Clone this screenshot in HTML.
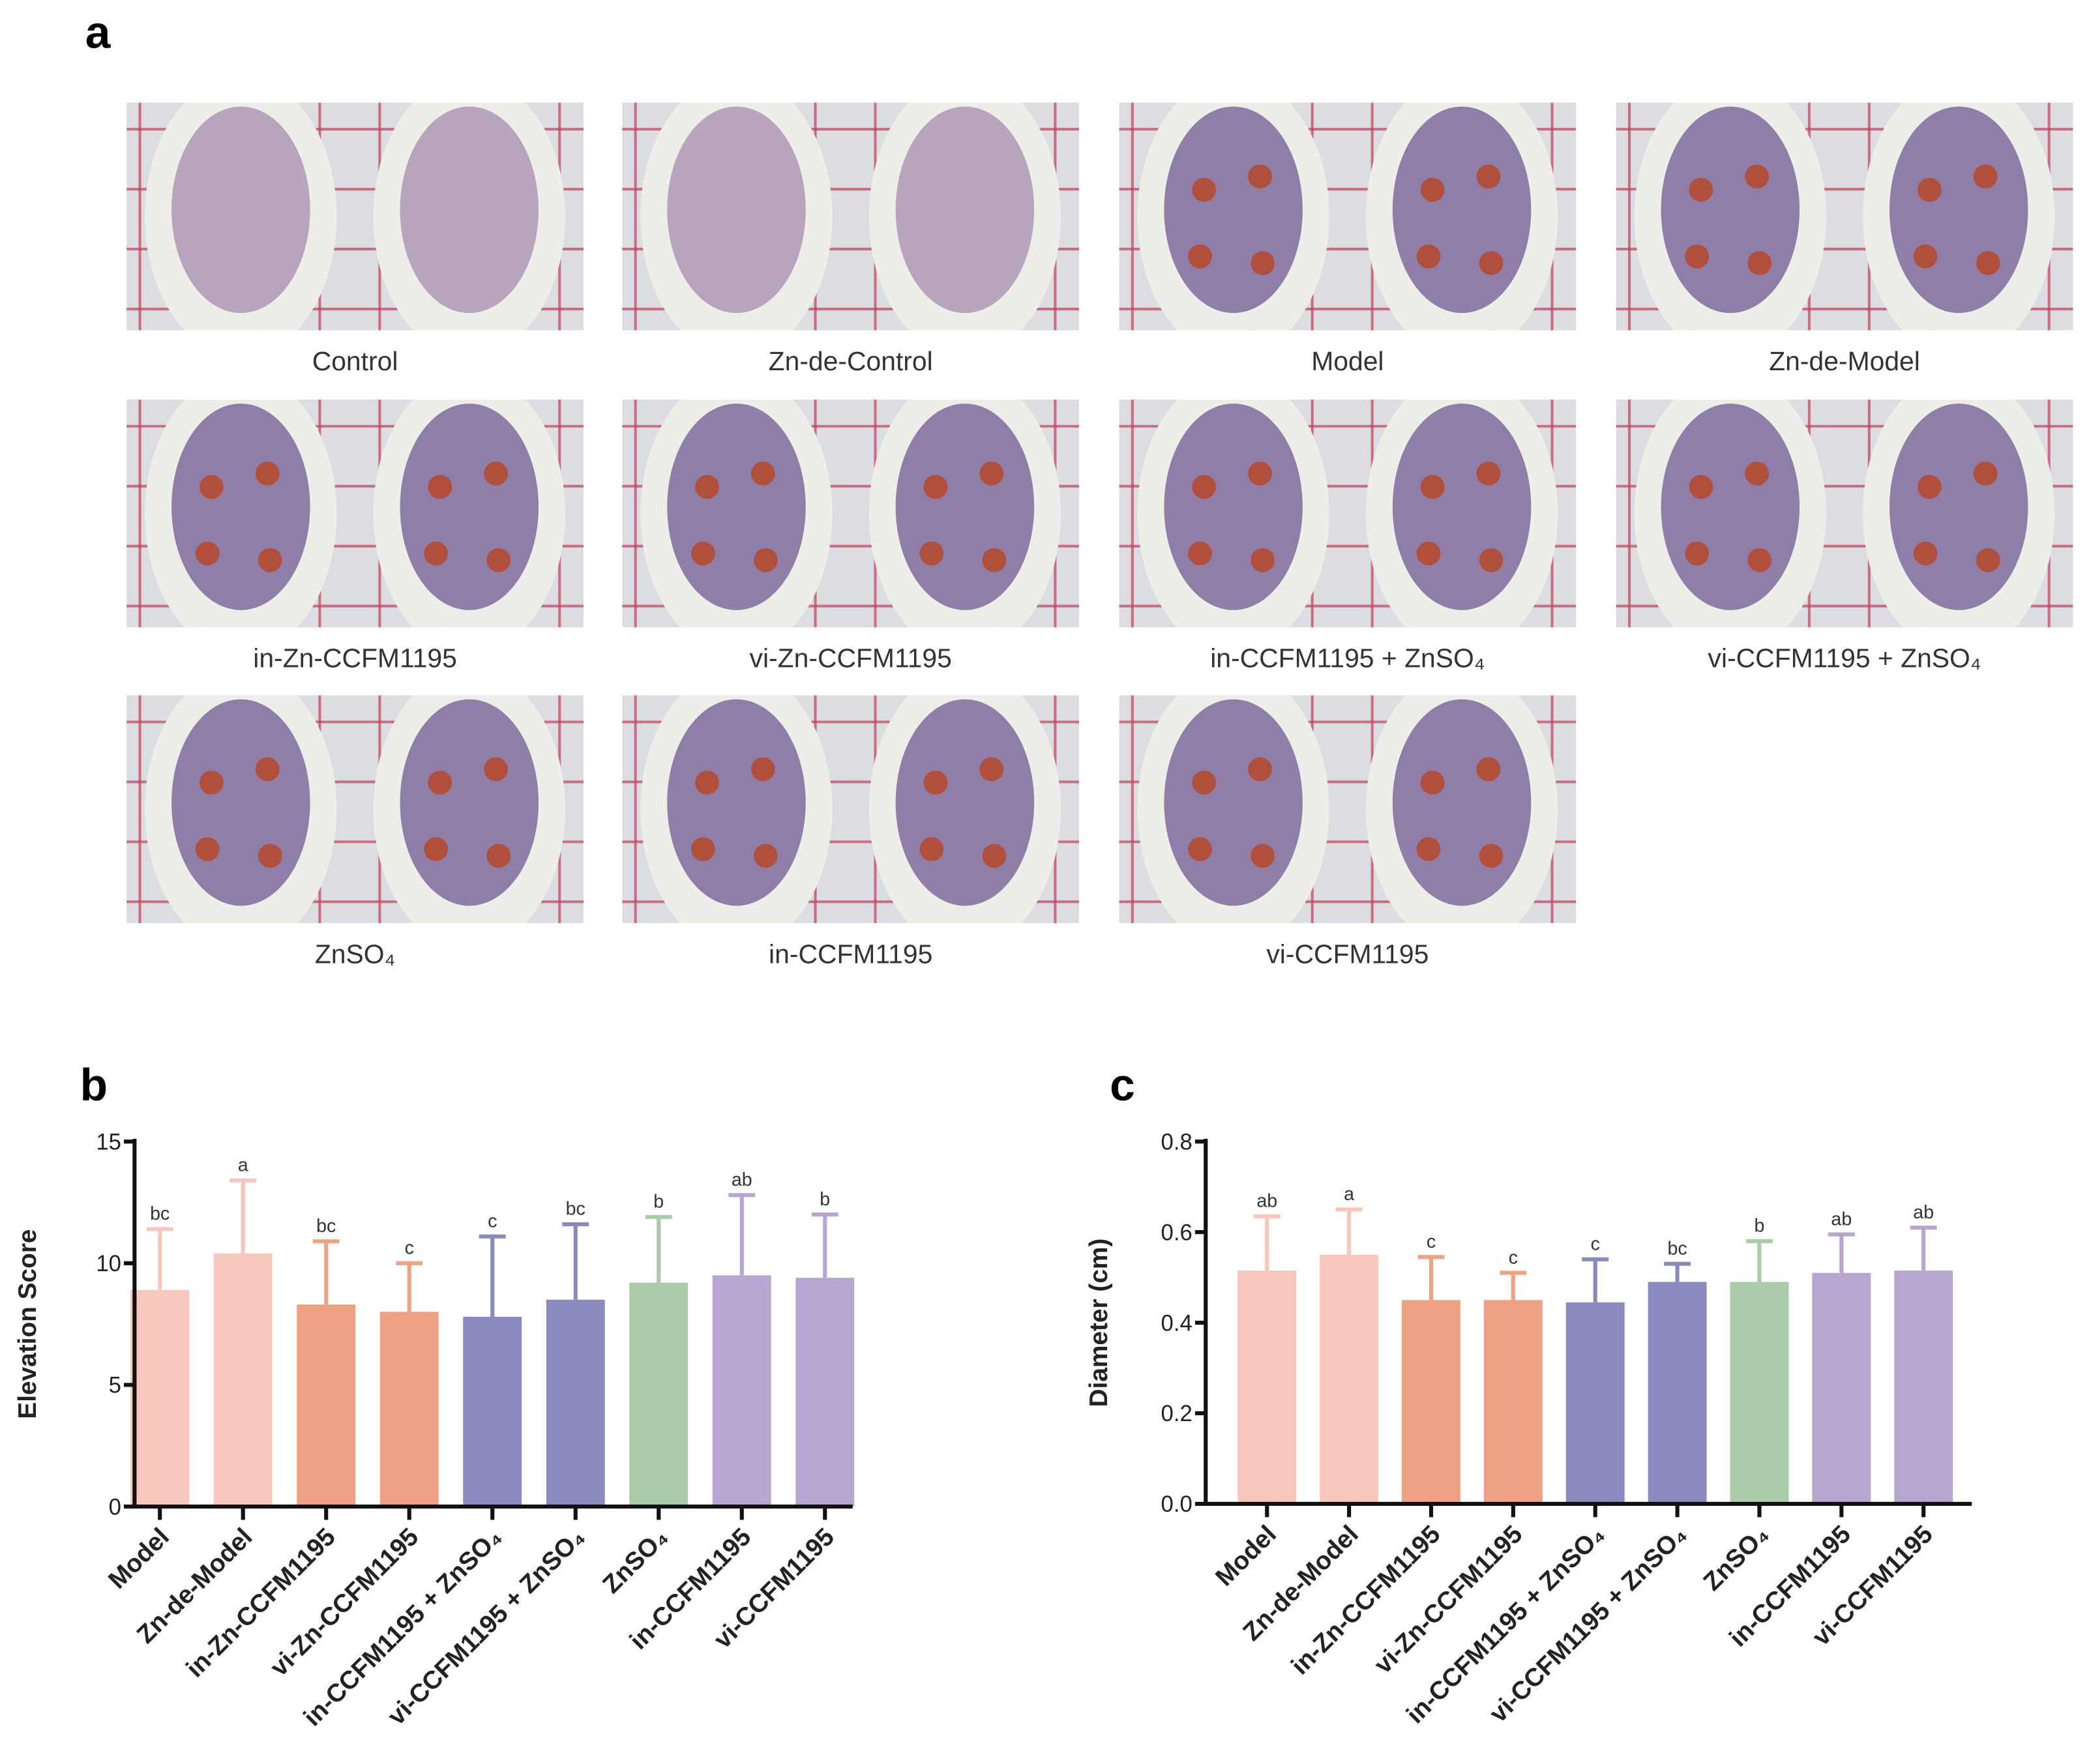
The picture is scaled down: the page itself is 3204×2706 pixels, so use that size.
<!DOCTYPE html>
<html><head><meta charset="utf-8"><style>
html,body{margin:0;padding:0;background:#fff;}
svg{display:block;font-family:"Liberation Sans",Arial,sans-serif;}
</style></head><body>
<svg id="root" width="3204" height="2706" viewBox="0 0 1568 1324.3" preserveAspectRatio="none">
<text x="64" y="36" font-size="34" font-weight="bold">a</text>
<g id="photos"></g>
<text x="60" y="826" font-size="34" font-weight="bold">b</text>
<text x="833" y="826" font-size="34" font-weight="bold">c</text>
<g id="chartB"></g>
<g id="chartC"></g>
</svg>
<script>
const categories=["Model","Zn-de-Model","in-Zn-CCFM1195","vi-Zn-CCFM1195","in-CCFM1195 + ZnSO\u2084","vi-CCFM1195 + ZnSO\u2084","ZnSO\u2084","in-CCFM1195","vi-CCFM1195"];
const elevationValues=[8.9,10.4,8.3,8.0,7.8,8.5,9.2,9.5,9.4];
const elevationErrTop=[11.4,13.4,10.9,10.0,11.1,11.6,11.9,12.8,12.0];
const elevationLetters=["bc","a","bc","c","c","bc","b","ab","b"];
const elevationTicks=[0,5,10,15];
const diameterValues=[0.515,0.55,0.45,0.45,0.445,0.49,0.49,0.51,0.515];
const diameterErrTop=[0.635,0.65,0.545,0.51,0.54,0.53,0.58,0.595,0.61];
const diameterLetters=["ab","a","c","c","c","bc","b","ab","ab"];
const diameterTicks=[0.0,0.2,0.4,0.6,0.8];
const photoLabels=["Control","Zn-de-Control","Model","Zn-de-Model","in-Zn-CCFM1195","vi-Zn-CCFM1195","in-CCFM1195 + ZnSO\u2084","vi-CCFM1195 + ZnSO\u2084","ZnSO\u2084","in-CCFM1195","vi-CCFM1195"];
const colors=["#f7c7be","#f7c7be","#efa283","#efa283","#8a8abf","#8a8abf","#aacca8","#b7a6cf","#b7a6cf"];
const NS="http://www.w3.org/2000/svg";
function mk(parent,tag,attrs){const e=document.createElementNS(NS,tag);for(const k in attrs)e.setAttribute(k,attrs[k]);parent.appendChild(e);return e;}

const root=document.getElementById('root');
const defs=mk(root,'defs',{});
const pg=document.getElementById('photos');
const colX=[95,467,840,1213],rowY=[77,300,522],pw=343,ph=171;
photoLabels.forEach((lab,i)=>{
  const x=colX[i%4],y=rowY[Math.floor(i/4)];
  const cp=mk(defs,'clipPath',{id:'cp'+i});
  mk(cp,'rect',{x:x,y:y,width:pw,height:ph});
  const g=mk(pg,'g',{'clip-path':'url(#cp'+i+')'});
  
  
  mk(g,'rect',{x:x,y:y,width:pw,height:ph,fill:'#dcdde2'});
  for(let k=0;k<8;k++){mk(g,'line',{x1:x+10+k*45,y1:y,x2:x+10+k*45,y2:y+ph,stroke:'#c0405a','stroke-width':2,opacity:0.7});}
  for(let k=0;k<4;k++){mk(g,'line',{x1:x,y1:y+20+k*45,x2:x+pw,y2:y+20+k*45,stroke:'#c0405a','stroke-width':2,opacity:0.7});}
  for(let h=0;h<2;h++){
    const cx=x+pw/4+h*pw/2;
    mk(g,'ellipse',{cx:cx,cy:y+ph/2,rx:72,ry:ph/2+20,fill:'#eeeee8'});
    mk(g,'ellipse',{cx:cx,cy:y+ph/2-5,rx:52,ry:ph/2-8,fill:(i<2?'#b8a4bc':'#8f7fa8')});
    if(i>=2){[[-22,-20],[20,-30],[-25,30],[22,35]].forEach(p=>mk(g,'circle',{cx:cx+p[0],cy:y+ph/2+p[1],r:9,fill:'#b0503c'}));}
  }
  const t=mk(pg,'text',{x:x+pw/2,y:y+ph+30,'text-anchor':'middle','font-size':20,fill:'#333'});
  t.textContent=lab;
  
  
});

function chart(gid,vals,errs,letters,ticks,ymax,ax,yTop,y0,xEnd,bx0,bdx,title,fmt){
  const g=document.getElementById(gid);
  const ys=v=>y0-(v/ymax)*(y0-yTop);
  const xs=i=>bx0+i*bdx;
  vals.forEach((v,i)=>{
    const b=mk(g,'rect',{x:xs(i)-22,y:ys(v),width:44,height:y0-ys(v),fill:colors[i]});
    
    
    const e=mk(g,'path',{d:`M${xs(i)},${ys(v)}V${ys(errs[i])}M${xs(i)-10},${ys(errs[i])}H${xs(i)+10}`,stroke:colors[i],'stroke-width':3,fill:'none'});
    
    
    const l=mk(g,'text',{x:xs(i),y:ys(errs[i])-7,'text-anchor':'middle','font-size':14,fill:'#333'});
    l.textContent=letters[i];
    
    
    mk(g,'line',{x1:xs(i),y1:y0,x2:xs(i),y2:y0+10,stroke:'#111','stroke-width':3});
    const t=mk(g,'text',{x:xs(i)+8,y:y0+24,'text-anchor':'end','font-size':19,'font-weight':'bold',fill:'#222',transform:`rotate(-45 ${xs(i)+8} ${y0+24})`});
    t.textContent=categories[i];
    
    
  });
  mk(g,'line',{x1:ax,y1:yTop-2,x2:ax,y2:y0,stroke:'#111','stroke-width':3});
  mk(g,'line',{x1:ax-2,y1:y0,x2:xEnd,y2:y0,stroke:'#111','stroke-width':3});
  ticks.forEach(tv=>{
    mk(g,'line',{x1:ax-8,y1:ys(tv),x2:ax,y2:ys(tv),stroke:'#111','stroke-width':3});
    const t=mk(g,'text',{x:ax-10,y:ys(tv)+6,'text-anchor':'end','font-size':17,fill:'#222'});
    t.textContent=fmt(tv);
    
    
  });
  const cy=(yTop+y0)/2, tx=ax-74;
  const tt=mk(g,'text',{x:tx,y:cy,'text-anchor':'middle','font-size':19,'font-weight':'bold',fill:'#222',transform:`rotate(-90 ${tx} ${cy})`});
  tt.textContent=title;
  
  
}
chart('chartB',elevationValues,elevationErrTop,elevationLetters,elevationTicks,15,101,857,1131,640,120,62.4,'Elevation Score',v=>String(v));
chart('chartC',diameterValues,diameterErrTop,diameterLetters,diameterTicks,0.8,905,857,1129,1480,951,61.6,'Diameter (cm)',v=>v.toFixed(1));
</script>
</body></html>
